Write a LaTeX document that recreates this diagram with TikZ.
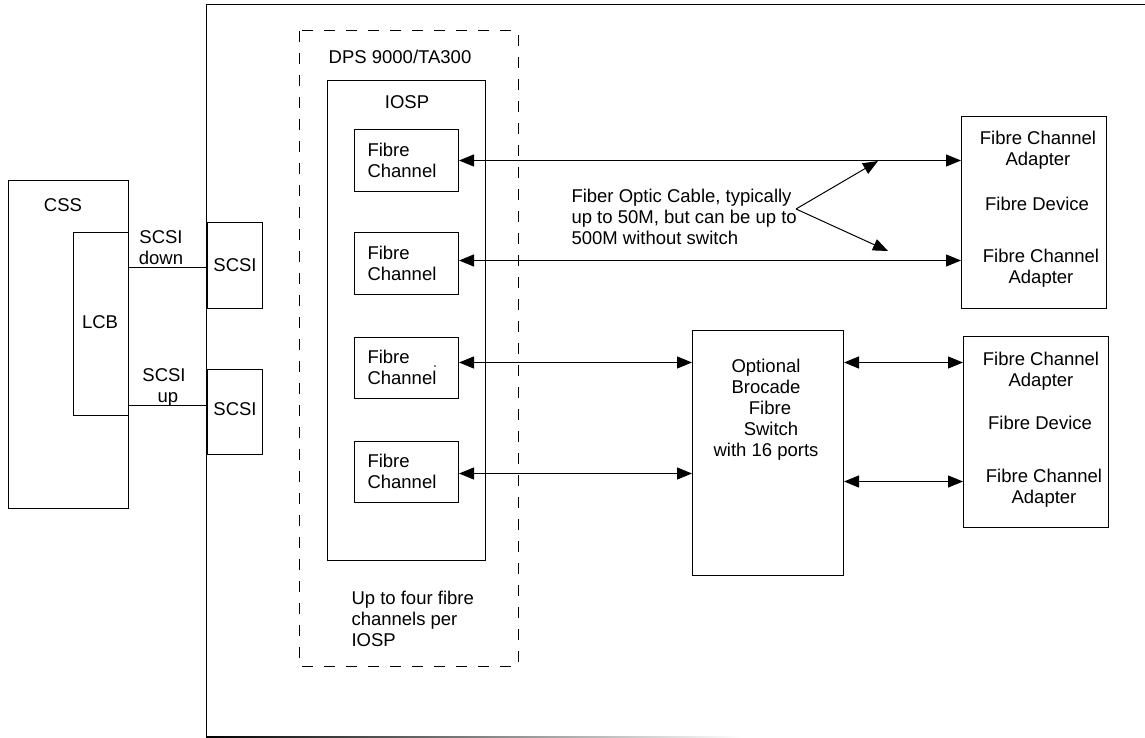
\documentclass[tikz,border=0pt]{standalone}
\usepackage{fontspec}
\setmainfont{Liberation Sans}
\usetikzlibrary{arrows.meta}
\begin{document}
\begin{tikzpicture}[x=1pt,y=-1pt,line width=1pt,
  every node/.style={font=\fontsize{18.5}{21}\selectfont,inner sep=0pt},
  box/.style={draw,rectangle,anchor=north west},
  lbl/.style={align=center},
  lbll/.style={align=left,anchor=west},
  tipend/.style={-{Triangle[length=15pt,width=12pt]}},
  dbl/.style={{Triangle[length=15pt,width=12pt]}-{Triangle[length=15pt,width=12pt]}},
  dashbox/.style={draw,dash pattern=on 11pt off 11pt}]
\useasboundingbox (0,0) rectangle (1145,738);

% open system frame
\draw (1145,5) -- (206,5) -- (206,737);
\shade[left color=black,right color=white] (206,736.3) rectangle (742,737.7);

% CSS with its LCB
\node[box,minimum width=120pt,minimum height=328pt] (css) at (8,180) {};
\node (csslbl) at (63,205) {CSS};
\node[box,minimum width=55pt,minimum height=183pt] (lcb) at (73,232) {};
\node (lcblbl) at (100,322) {LCB};

% SCSI ports
\node[box,minimum width=55pt,minimum height=86pt] (scsia) at (207,222) {};
\node (scsialbl) at (235,265) {SCSI};
\node[box,minimum width=55pt,minimum height=85pt] (scsib) at (207,369) {};
\node (scsiblbl) at (235,409) {SCSI};
\draw ([yshift=-2pt]scsia.west) -- ([yshift=-2pt]scsia.west -| lcb.east);
\draw ([yshift=6.5pt]scsib.west) -- ([yshift=6.5pt]scsib.west -| lcb.east);
\node[lbl] (downlbl) at (161,247.5) {SCSI\\down};
\node[lbl] (uplbl) at (164,387.5) {SCSI\\\hspace*{8pt}up};

% DPS 9000 cabinet and IOSP
\draw[dashbox] (299,31) rectangle (518,666);
\node (dpslbl) at (400,57) {DPS 9000/TA300};
\node[box,minimum width=158pt,minimum height=480pt] (iosp) at (327,80) {};
\node (iosplbl) at (407,102) {IOSP};

\node[box,minimum width=104pt,minimum height=62pt] (fca) at (354,129) {};
\node[box,minimum width=104pt,minimum height=62pt] (fcb) at (354,232) {};
\node[box,minimum width=104pt,minimum height=61pt] (fcc) at (354,337) {};
\node[box,minimum width=104pt,minimum height=61pt] (fcd) at (354,441) {};
\node[lbll] (fcalbl) at (367,160) {Fibre\\Channel};
\node[lbll] (fcblbl) at (367,263) {Fibre\\Channel};
\node[lbll] (fcclbl) at (367,367.5) {Fibre\\Channel};
\node[lbll] (fcdlbl) at (367,471.5) {Fibre\\Channel};
\fill (435,366) circle (0.8pt);

\node[lbll] (uplbl2) at (351,619) {Up to four fibre\\channels per\\IOSP};

% Brocade switch
\node[box,minimum width=151pt,minimum height=245pt] (sw) at (692,330) {};
\node[lbl] (swlbl) at (766,409.5) {Optional\\Brocade\\\hspace*{8pt}Fibre\\\hspace*{10pt}Switch\\with 16 ports};

% fibre devices
\node[box,minimum width=145pt,minimum height=192pt] (deva) at (961,116) {};
\node[lbl] (devaa) at (1038,150) {Fibre Channel\\Adapter};
\node (devam) at (1037,204) {Fibre Device};
\node[lbl] (devab) at (1041,268) {Fibre Channel\\Adapter};
\node[box,minimum width=145pt,minimum height=191pt] (devb) at (963,336) {};
\node[lbl] (devba) at (1041,371) {Fibre Channel\\Adapter};
\node (devbm) at (1040,423) {Fibre Device};
\node[lbl] (devbb) at (1044,488) {Fibre Channel\\Adapter};

% fibre optic links
\draw[dbl] (fca.east) -- (fca.east -| deva.west);
\draw[dbl] ([yshift=3pt]fcb.east) -- ([yshift=3pt]fcb.east -| deva.west);
\draw[dbl] ([yshift=5.5pt]fcc.east) -- ([yshift=5.5pt]fcc.east -| sw.west);
\draw[dbl] ([yshift=-1.5pt]fcd.east) -- ([yshift=-1.5pt]fcd.east -| sw.west);
\draw[dbl] ([yshift=5.5pt]fcc.east -| sw.east) -- ([yshift=5.5pt]fcc.east -| devb.west);
\draw[dbl] ([yshift=-9.5pt]fcd.east -| sw.east) -- ([yshift=-9.5pt]fcd.east -| devb.west);

% cable note
\node[lbll] (cablelbl) at (571,217) {Fiber Optic Cable, typically\\up to 50M, but can be up to\\500M without switch};
\coordinate (cfork) at (796,209);
\coordinate (cup) at (878,161);
\coordinate (cdown) at (888,251);
\draw[tipend] (cfork) -- (cup);
\draw[tipend] (cfork) -- (cdown);
\end{tikzpicture}
\end{document}
